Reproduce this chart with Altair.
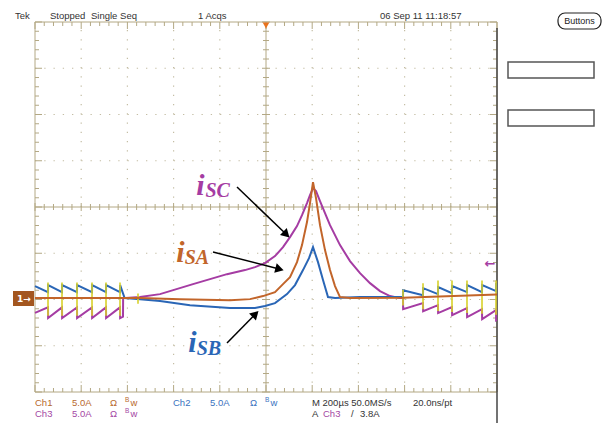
import altair as alt
import numpy as np
import pandas as pd

# ---------------- waveform data (time in µs, trigger at 0; current in A) ----------------
isb_t = [-1000, -943.7, -943.2, -883.1, -882.6, -818.2, -817.7, -753.2, -752.7, -692.6, -692.1,
         -632.0, -631.5, -612.0, -545.4, -458.9, -329.0, -155.8, -47.6, -4.3, 39.0, 90.9, 125.6,
         160.2, 186.2, 203.5, 225.1, 246.8, 268.4, 298.7, 407.0, 593.1, 593.6, 679.7, 680.2,
         744.6, 745.1, 805.2, 805.7, 870.1, 870.6, 935.1, 935.6, 995.7, 996.2, 1000]
isb_i = [1.3, 0.65, 1.41, 0.65, 1.41, 0.65, 1.41, 0.65, 1.41, 0.65, 1.41,
         0.65, 1.41, 0.0, -0.11, -0.32, -0.76, -1.08, -1.08, -0.86, -0.54, 0.43, 1.41,
         3.03, 4.32, 5.51, 3.89, 1.95, 0.11, 0.0, 0.11, 0.11, 0.86, 0.32, 1.08,
         0.43, 1.19, 0.54, 1.30, 0.65, 1.41, 0.65, 1.41, 0.76, 1.51, 1.48]

isc_t = [-1000, -943.7, -943.2, -883.1, -882.6, -818.2, -817.7, -753.2, -752.7, -692.6, -692.1,
         -632.0, -631.5, -619.0, -618.5, -545.4, -458.9, -316.0, -168.8, -90.9, -47.6, -4.3,
         39.0, 73.6, 103.9, 134.2, 155.9, 177.5, 190.5, 203.5, 216.5, 233.8, 255.4, 277.1,
         320.4, 363.7, 407.0, 450.2, 493.5, 536.8, 580.1, 593.1, 593.6, 679.7, 680.2, 744.6,
         745.1, 805.2, 805.7, 870.1, 870.6, 935.1, 935.6, 995.7, 996.2, 1000]
isc_i = [-1.6, -1.0, -2.16, -1.0, -2.16, -1.0, -2.16, -1.0, -2.16, -1.0, -2.16,
         -1.0, -2.16, -2.0, 0.0, 0.11, 0.43, 1.51, 2.59, 3.03, 3.35, 3.78,
         4.54, 5.51, 6.59, 7.78, 8.97, 10.27, 11.13, 11.89, 11.57, 10.49, 9.19, 7.89,
         5.73, 4.0, 2.70, 1.62, 0.76, 0.22, 0.0, 0.0, -1.19, -0.54, -1.41, -0.76,
         -1.62, -0.97, -1.84, -1.08, -2.05, -1.19, -2.27, -1.30, -2.40, -2.35]

isa_t = [-1000, -619.0, -545.4, -372.3, -155.8, -69.2, -13.0, 39.0, 73.6, 103.9, 134.2, 155.9,
         177.5, 190.5, 203.5, 216.5, 233.8, 255.4, 277.1, 298.7, 320.4, 363.7, 593.1, 1000]
isa_i = [0.0, 0.0, 0.0, -0.11, -0.22, -0.11, 0.22, 0.65, 1.51, 2.27, 3.89, 5.73,
         8.22, 10.27, 12.54, 10.81, 7.89, 5.19, 3.03, 1.30, 0.11, 0.0, 0.05, 0.4]

spike_t = [-943.7, -883.1, -818.2, -753.2, -692.6, -632.0, -554.1,
           593.1, 679.7, 744.6, 805.2, 870.1, 935.1, 995.7]
spike_lo = [-1.9, -1.9, -1.9, -1.9, -1.9, -1.9, -0.6, -0.8, -1.2, -1.4, -1.5, -1.6, -1.7, -1.8]
spike_hi = [1.7, 1.7, 1.7, 1.7, 1.7, 1.7, 0.5, 0.9, 1.6, 1.9, 1.9, 1.9, 1.9, 1.9]

GROUND_DIV = -1.97   # channel ground marker (divisions)
A_PER_DIV = 5.0

# ---------------- annotation data (µs, divisions) ----------------
lab_text = ["i", "SC", "i", "SA", "i", "SB"]
lab_t = [-302.0, -262.0, -389.0, -352.0, -337.0, -300.0]
lab_d = [0.259, 0.216, -1.189, -1.232, -3.135, -3.2]
lab_size = [30, 20, 30, 20, 30, 20]

arr_t0 = [-125.5, -229.4, -168.8]
arr_d0 = [0.432, -0.973, -2.941]
arr_t1 = [84.0, 52.8, -49.8]
arr_d1 = [-0.573, -1.336, -2.335]
arr_ang = [133.9, 104.4, 45.0]

ORANGE = "#c2652a"
BLUE = "#2a66b6"
MAGENTA = "#a53ca3"
YELLOW = "#d8d12a"
TAN = "#b3a884"
DOT = "#c4bda4"
lab_color = [MAGENTA, MAGENTA, ORANGE, ORANGE, BLUE, BLUE]

W, H = 462, 370
PXX = W / 10.0  # px per horizontal division
PXY = H / 8.0   # px per vertical division


def X(f):
    return alt.X(f, type="quantitative", axis=None,
                 scale=alt.Scale(domain=[-1000, 1000], nice=False, zero=False))


def Y(f):
    return alt.Y(f, type="quantitative", axis=None,
                 scale=alt.Scale(domain=[-4, 4], nice=False, zero=False))


# ---------------- graticule ----------------
segs = []
for k in range(51):
    t = -1000 + k * 40
    major = k % 5 == 0
    L = (7 if major else 4) / PXY
    c = (4 if major else 3) / PXY
    segs += [(t, t, 4, 4 - L), (t, t, -4, -4 + L), (t, t, -c, c)]
for k in range(41):
    d = round(-4 + k * 0.2, 3)
    major = k % 5 == 0
    L = (7 if major else 4) * 200 / PXX
    c = (4 if major else 3) * 200 / PXX
    segs += [(-1000, -1000 + L, d, d), (1000, 1000 - L, d, d), (-c, c, d, d)]
segs += [(-1000, 1000, 4, 4), (-1000, 1000, -4, -4), (-1000, -1000, -4, 4),
         (1000, 1000, -4, 4), (-1000, 1000, 0, 0), (0, 0, -4, 4)]
ticks_df = pd.DataFrame(segs, columns=["x", "x2", "y", "y2"])

grid = [(t, t, -4, 4) for t in range(-800, 801, 200) if t != 0]
grid += [(-1000, 1000, d, d) for d in range(-3, 4) if d != 0]
grid_df = pd.DataFrame(grid, columns=["x", "x2", "y", "y2"])

grid_layer = alt.Chart(grid_df).mark_rule(color=DOT, strokeWidth=1.2, strokeDash=[1.3, 7.95]).encode(
    x=X("x"), x2="x2", y=Y("y"), y2="y2")
tick_layer = alt.Chart(ticks_df).mark_rule(color=TAN, strokeWidth=1).encode(
    x=X("x"), x2="x2", y=Y("y"), y2="y2")


# ---------------- waveforms ----------------
def wave(ts, cs, color):
    df = pd.DataFrame({"t": ts, "i": cs, "k": range(len(ts))})
    return alt.Chart(df).transform_calculate(
        d=f"{GROUND_DIV} + datum.i / {A_PER_DIV}"
    ).mark_line(color=color, strokeWidth=2).encode(x=X("t"), y=Y("d"), order="k:Q")


spike_df = pd.DataFrame({"t": spike_t, "lo": spike_lo, "hi": spike_hi})
spike_layer = alt.Chart(spike_df).transform_calculate(
    a=f"{GROUND_DIV} + datum.lo / {A_PER_DIV}", b=f"{GROUND_DIV} + datum.hi / {A_PER_DIV}"
).mark_rule(color=YELLOW, strokeWidth=1.6).encode(x=X("t"), y=Y("a"), y2="b")

# ---------------- labels & arrows ----------------
lab_df = pd.DataFrame({"txt": lab_text, "t": lab_t, "d": lab_d, "s": lab_size, "c": lab_color})
lab_layer = alt.Chart(lab_df).mark_text(
    align="left", baseline="alphabetic", font="Liberation Serif", fontWeight="bold",
    fontStyle="italic").encode(
    x=X("t"), y=Y("d"), text="txt:N", size=alt.Size("s:Q", scale=None, legend=None),
    color=alt.Color("c:N", scale=None, legend=None))

arr_df = pd.DataFrame({"t0": arr_t0, "d0": arr_d0, "t1": arr_t1, "d1": arr_d1, "ang": arr_ang})
arr_line = alt.Chart(arr_df).mark_rule(color="black", strokeWidth=1.5).encode(
    x=X("t0"), x2="t1", y=Y("d0"), y2="d1")
arr_head = alt.Chart(arr_df).mark_point(shape="triangle", filled=True, color="black",
                                        opacity=1, size=95).encode(
    x=X("t1"), y=Y("d1"), angle=alt.Angle("ang:Q", scale=None))

# ---------------- scope UI (pixel positions relative to the plot area) ----------------
ui_text = ["Tek", "Stopped", "Single Seq", "1 Acqs", "06 Sep 11 11:18:57",
           "Ch1", "5.0A", "Ω", "Ch2", "5.0A", "Ω", "Ch3", "5.0A", "Ω",
           "M 200µs 50.0MS/s", "20.0ns/pt", "A", "Ch3", "/", "3.8A"]
ui_x = [-20, 15, 56, 163, 345,
        0, 37, 75, 138, 175, 215, 0, 37, 75,
        277, 378, 277, 288, 316, 325]
ui_y = [-6, -6, -6, -6, -6,
        380.5, 380.5, 380.5, 380.5, 380.5, 380.5, 391.5, 391.5, 391.5,
        380.5, 380.5, 391.5, 391.5, 391.5, 391.5]
C1, C2, C3, CK = "#b8692e", "#3a72c0", "#a447a4", "#333333"
ui_color = [CK, CK, CK, CK, CK,
            C1, C1, C1, C2, C2, C2, C3, C3, C3,
            CK, CK, CK, C3, CK, CK]
ui_df = pd.DataFrame({"txt": ui_text, "px": ui_x, "py": ui_y, "c": ui_color})
ui_layer = alt.Chart(ui_df).mark_text(
    align="left", baseline="middle", font="Liberation Sans", fontSize=9.5).encode(
    x=alt.X("px:Q", scale=None), y=alt.Y("py:Q", scale=None), text="txt:N",
    color=alt.Color("c:N", scale=None, legend=None))

bw_x = [90, 230, 90]
bw_y = [380.5, 380.5, 391.5]
bw_c = [C1, C2, C3]
bw_df = pd.DataFrame({"px": bw_x, "py": bw_y, "c": bw_c})
bw_B = alt.Chart(bw_df).mark_text(align="left", baseline="middle", font="Liberation Sans",
                                  fontSize=6.5, dy=-3, text="B").encode(
    x=alt.X("px:Q", scale=None), y=alt.Y("py:Q", scale=None),
    color=alt.Color("c:N", scale=None, legend=None))
bw_w = alt.Chart(bw_df).mark_text(align="left", baseline="middle", font="Liberation Sans",
                                  fontSize=9.5, dx=5.5, text="w").encode(
    x=alt.X("px:Q", scale=None), y=alt.Y("py:Q", scale=None),
    color=alt.Color("c:N", scale=None, legend=None))

# boxes on the right, button, separator
box_df = pd.DataFrame({"x0": [473, 473], "x1": [559, 559], "y0": [40, 88], "y1": [56, 104]})
box_layer = alt.Chart(box_df).mark_rect(fill="white", stroke="#555555", strokeWidth=1.5).encode(
    x=alt.X("x0:Q", scale=None), x2="x1", y=alt.Y("y0:Q", scale=None), y2="y1")

btn = alt.Chart(pd.DataFrame({"a": [0]})).mark_rect(
    fill="white", stroke="#222222", strokeWidth=1.2, cornerRadius=7).encode(
    x=alt.value(523), x2=alt.value(566), y=alt.value(-9), y2=alt.value(7))
btn_txt = alt.Chart(pd.DataFrame({"a": [0]})).mark_text(
    text="Buttons", font="Liberation Sans", fontSize=9,
    align="center", baseline="middle", color="#222222").encode(
    x=alt.value(544.5), y=alt.value(-1))

sep = alt.Chart(pd.DataFrame({"a": [0]})).mark_rule(color="#444444", strokeWidth=1.5).encode(
    x=alt.value(462), y=alt.value(6), y2=alt.value(401))

gnd_box = alt.Chart(pd.DataFrame({"a": [0]})).mark_rect(fill="#a3561f").encode(
    x=alt.value(-22), x2=alt.value(-1), y=alt.value(269), y2=alt.value(284))
gnd_txt = alt.Chart(pd.DataFrame({"a": [0]})).mark_text(
    text="1→", font="DejaVu Sans", fontSize=9, fontWeight="bold", color="white",
    align="center", baseline="middle").encode(x=alt.value(-11), y=alt.value(276.5))

trig_top = alt.Chart(pd.DataFrame({"a": [0]})).mark_point(
    shape="triangle-down", filled=True, color="#e8731e", opacity=1, size=45).encode(
    x=alt.value(231), y=alt.value(3.5))
trig_lvl = alt.Chart(pd.DataFrame({"a": [0]})).mark_text(
    text="←", font="DejaVu Sans", fontSize=13, fontWeight="bold", color=MAGENTA,
    align="center", baseline="middle").encode(x=alt.value(455), y=alt.value(242))

chart = alt.layer(
    grid_layer, tick_layer, sep,
    wave(isc_t, isc_i, MAGENTA), wave(isb_t, isb_i, BLUE), spike_layer, wave(isa_t, isa_i, ORANGE),
    arr_line, arr_head, lab_layer,
    ui_layer, bw_B, bw_w, box_layer, btn, btn_txt, gnd_box, gnd_txt, trig_top, trig_lvl,
).resolve_scale(x="independent", y="independent").properties(
    width=W, height=H, autosize="none",
    padding={"left": 35, "top": 22, "right": 108, "bottom": 31},
    background="white",
).configure_view(stroke=None)

chart.save("out.html", embed_options={"renderer": "svg", "actions": False})
